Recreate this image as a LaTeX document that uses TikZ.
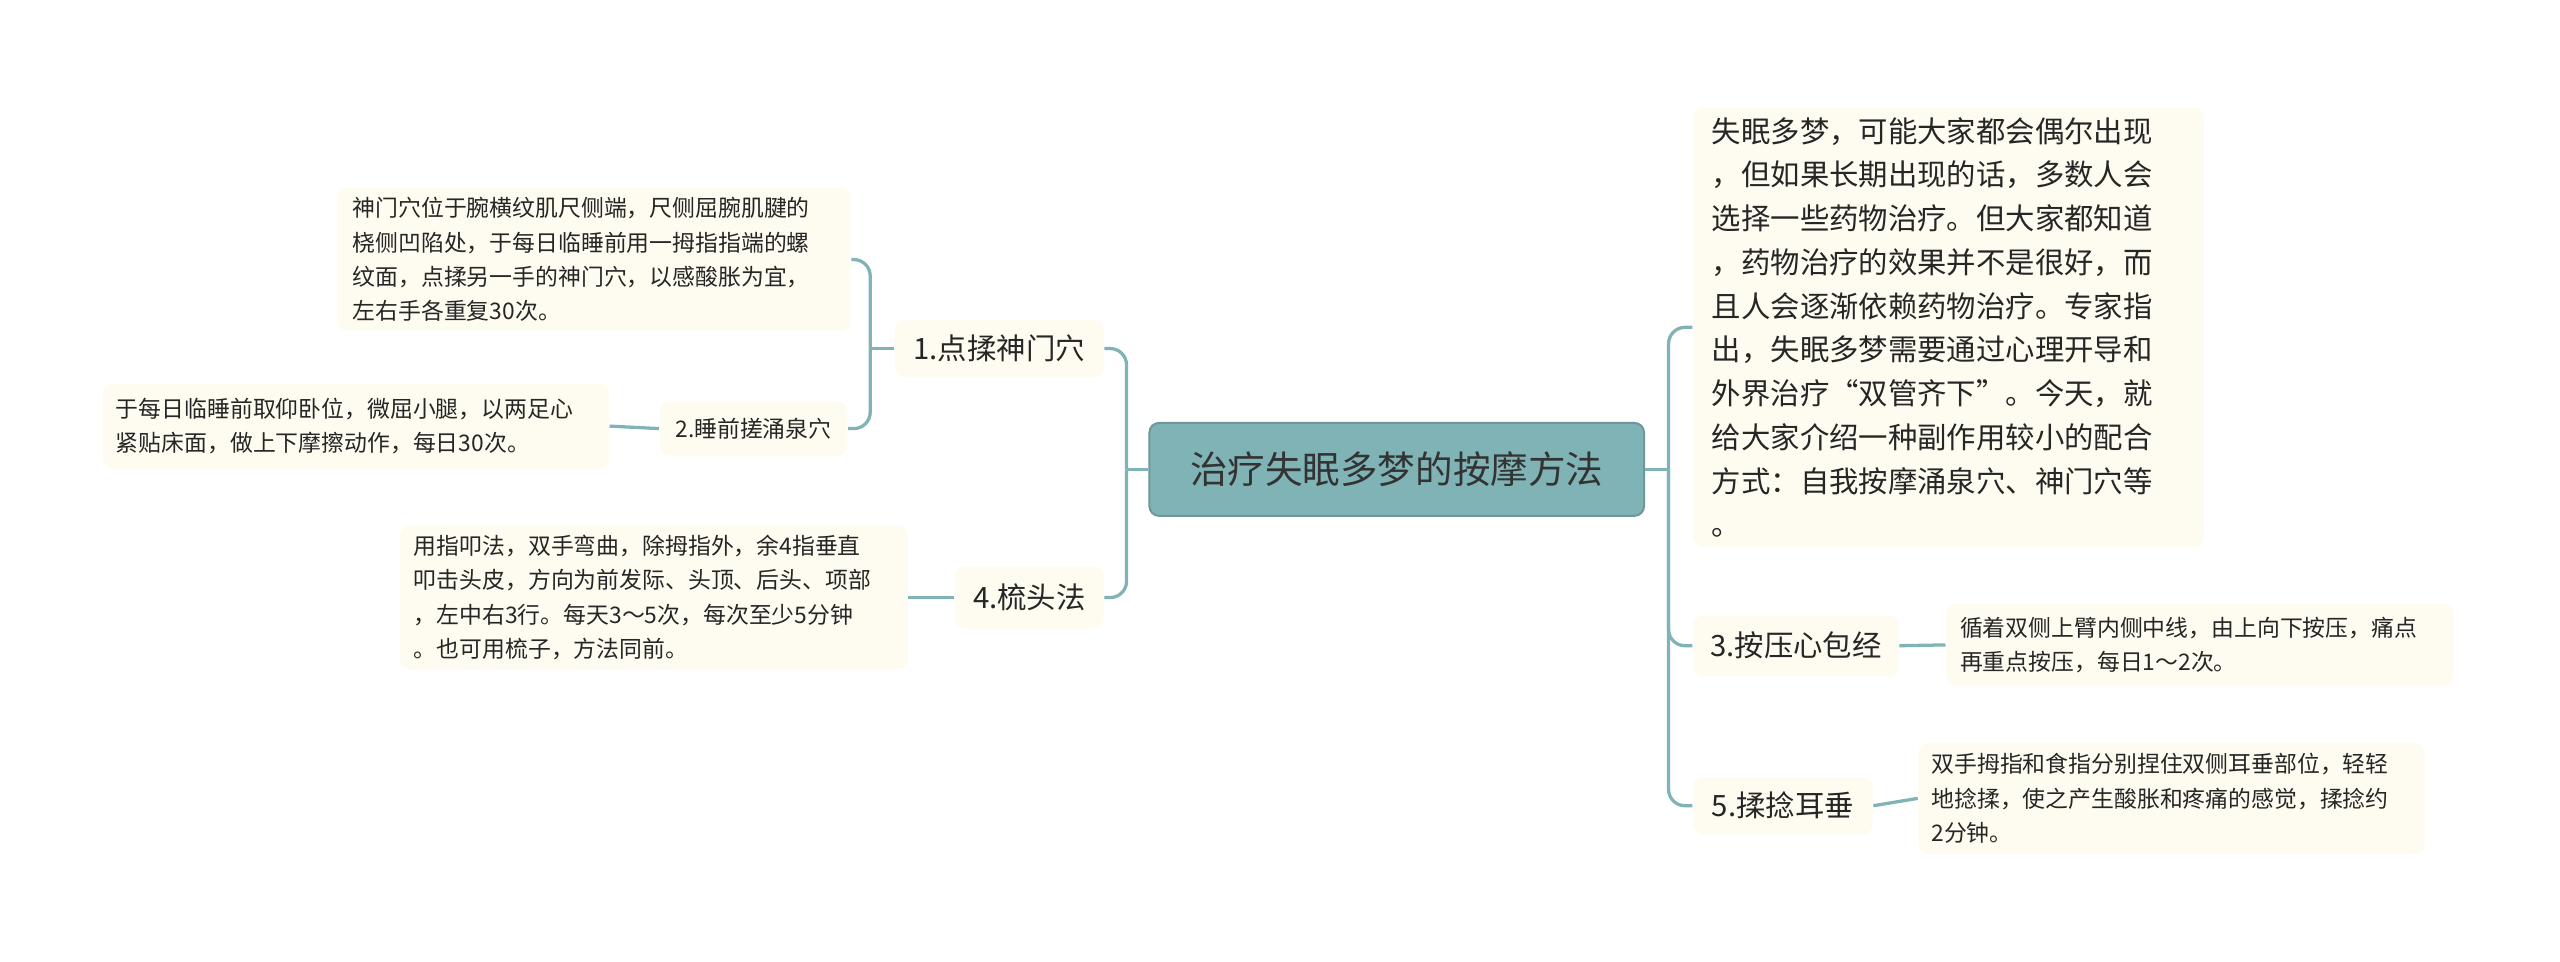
\documentclass[tikz,border=0pt]{standalone}
\usepackage{fontspec}
\setmainfont{Noto Sans CJK SC}
\begin{document}
\begin{tikzpicture}[x=0.5pt,y=-0.5pt,
 sz/.style 2 args={minimum width=#1*0.5pt,minimum height=#2*0.5pt},
 base/.style={inner sep=0pt,align=left,text=black!85,rounded corners=3pt},
 leaf/.style={base,fill=cream,font=\fontsize{7}{10.5}\selectfont},
 br/.style={base,fill=cream,font=\fontsize{9}{13}\selectfont,align=center},
 ln/.style={draw=teal0,line width=1pt,rounded corners=5pt}]
\definecolor{cream}{HTML}{FEFBF0}
\definecolor{teal0}{HTML}{7FB3B5}
\useasboundingbox (0,0) rectangle (1568,589);
\node[base,fill=teal0,draw=teal0!85!black,line width=0.6pt,sz={303}{57},align=center,font=\fontsize{11.5}{14}\selectfont,text=black!80] (c) at (855.5,287.5) {治疗失眠多梦的按摩方法};
\node[br,align=left,sz={313}{269},text width=145pt,font=\fontsize{9}{13.4}\selectfont] (r0) at (1193.5,200.5) {失眠多梦，可能大家都会偶尔出现\\，但如果长期出现的话，多数人会\\选择一些药物治疗。但大家都知道\\，药物治疗的效果并不是很好，而\\且人会逐渐依赖药物治疗。专家指\\出，失眠多梦需要通过心理开导和\\外界治疗“双管齐下”。今天，就\\给大家介绍一种副作用较小的配合\\方式：自我按摩涌泉穴、神门穴等\\。};
\node[br,sz={126}{37}] (n3) at (1100,395.5) {3.按压心包经};
\node[leaf,sz={311}{50},text width=147pt] (l3) at (1347.5,395) {循着双侧上臂内侧中线，由上向下按压，痛点\\再重点按压，每日1～2次。};
\node[br,sz={110}{35}] (n5) at (1092,493.5) {5.揉捻耳垂};
\node[leaf,sz={310}{68},text width=147pt] (l5) at (1330,489) {双手拇指和食指分别捏住双侧耳垂部位，轻轻\\地捻揉，使之产生酸胀和疼痛的感觉，揉捻约\\2分钟。};
\node[br,sz={128}{35}] (n1) at (612,213.5) {1.点揉神门穴};
\node[leaf,sz={314}{88},text width=148pt] (l1) at (364,159) {神门穴位于腕横纹肌尺侧端，尺侧屈腕肌腱的\\桡侧凹陷处，于每日临睡前用一拇指指端的螺\\纹面，点揉另一手的神门穴，以感酸胀为宜，\\左右手各重复30次。};
\node[br,sz={115}{33},font=\fontsize{7}{9}\selectfont] (n2) at (461.5,262.5) {2.睡前搓涌泉穴};
\node[leaf,sz={310}{52},text width=147pt] (l2) at (218,261) {于每日临睡前取仰卧位，微屈小腿，以两足心\\紧贴床面，做上下摩擦动作，每日30次。};
\node[br,sz={91}{38}] (n4) at (630.5,366) {4.梳头法};
\node[leaf,sz={311}{88},text width=147pt] (l4) at (400.5,366) {用指叩法，双手弯曲，除拇指外，余4指垂直\\叩击头皮，方向为前发际、头顶、后头、项部\\，左中右3行。每天3～5次，每次至少5分钟\\。也可用梳子，方法同前。};
\coordinate (cl) at (690,287.5);
\coordinate (cr) at (1022,287.5);
\draw[ln] (c.west) -- (cl);
\draw[ln] (cl) |- (n1.east);
\draw[ln] (cl) |- (n4.east);
\draw[ln] (c.east) -- (cr);
\draw[ln] (cr) |- (r0.west);
\draw[ln] (cr) |- (n3.west);
\draw[ln] (cr) |- (n5.west);
\coordinate (k1) at (533,213.5);
\draw[ln] (n1.west) -- (k1);
\draw[ln] (k1) |- (l1.east);
\draw[ln] (k1) |- (n2.east);
\draw[ln] (n2.west) -- (l2.east);
\draw[ln] (n4.west) -- (l4.east);
\draw[ln] (n3.east) -- (l3.west);
\draw[ln] (n5.east) -- (l5.west);
\end{tikzpicture}
\end{document}
